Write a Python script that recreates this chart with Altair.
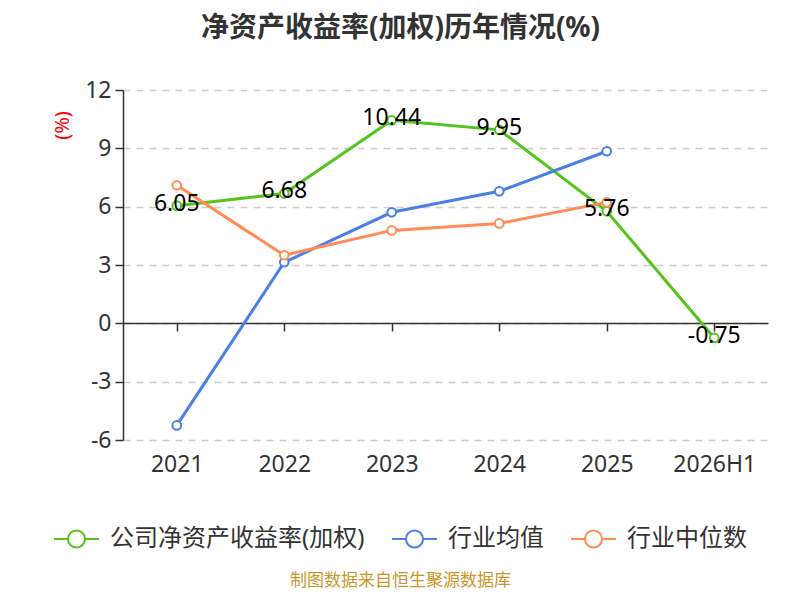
import altair as alt
import pandas as pd

years = ["2021", "2022", "2023", "2024", "2025", "2026H1"]
company = [6.05, 6.68, 10.44, 9.95, 5.76, -0.75]
industry_avg = [-5.25, 3.14, 5.71, 6.79, 8.85, None]
industry_median = [7.10, 3.50, 4.78, 5.14, 6.22, None]

s_company = "公司净资产收益率(加权)"
s_avg = "行业均值"
s_median = "行业中位数"
series_names = [s_company, s_avg, s_median]
series_colors = ["#52c41a", "#4a80e6", "#ff8b55"]

rows = []
for name, vals in zip(series_names, [company, industry_avg, industry_median]):
    for y, v in zip(years, vals):
        if v is not None:
            rows.append({"year": y, "series": name, "value": v, "label": f"{v:.2f}"})
df = pd.DataFrame(rows)
df_company = df[df["series"] == s_company]

FONT = "Noto Sans, Noto Sans CJK SC, sans-serif"

y_enc = alt.Y(
    "value:Q",
    scale=alt.Scale(domain=[-6, 12], nice=False, zero=False),
    axis=alt.Axis(
        values=[-6, -3, 0, 3, 6, 9, 12],
        labelExpr="datum.value < 0 ? '-' + abs(datum.value) : '' + datum.value",
        grid=True,
        gridDash=[7, 6],
        gridColor="#cccccc",
        gridWidth=1.5,
        domainColor="#333333",
        domainWidth=1.5,
        tickColor="#333333",
        tickSize=8,
        tickWidth=1.5,
        labelFontSize=23,
        labelColor="#333333",
        labelFont=FONT,
        labelPadding=4,
        title="(%)",
        titleColor="#ff0000",
        titleFontSize=20,
        titleFontWeight="normal",
        titleFont=FONT,
        titleX=-51,
        titleY=35,
        titleAngle=270,
    ),
)

color_scale = alt.Scale(domain=series_names, range=series_colors)

legend_path = ("M-1,0 L-0.38,0 M0.38,0 L1,0 "
               "M-0.38,0 A0.38,0.38 0 1,1 0.38,0 A0.38,0.38 0 1,1 -0.38,0")

lines = alt.Chart(df).mark_line(strokeWidth=3).encode(
    x=alt.X(
        "year:N",
        sort=years,
        scale=alt.Scale(domain=years, paddingInner=0, paddingOuter=0),
        axis=alt.Axis(
            orient="bottom",
            domain=False,
            ticks=False,
            grid=False,
            labelAngle=0,
            labelFontSize=23,
            labelColor="#333333",
            labelFont=FONT,
            labelPadding=13,
            title="制图数据来自恒生聚源数据库",
            titleColor="#c9962b",
            titleFontSize=17,
            titleFontWeight="normal",
            titleFont=FONT,
            titlePadding=96,
            titleX=277,
        ),
    ),
    y=y_enc,
    color=alt.Color(
        "series:N",
        scale=color_scale,
        sort=series_names,
        legend=alt.Legend(
            title=None,
            orient="none",
            direction="horizontal",
            legendX=-70,
            legendY=425,
            symbolType=legend_path,
            symbolSize=2025,
            symbolStrokeWidth=2,
            symbolFillColor="white",
            labelFontSize=24,
            labelColor="#333333",
            labelFont=FONT,
            labelOffset=10,
            labelLimit=400,
            columnPadding=23,
            padding=0,
        ),
    ),
)

points = alt.Chart(df).mark_point(
    shape="circle", filled=True, fill="white", size=75, strokeWidth=2, opacity=1
).encode(
    x=alt.X(
        "year:N",
        sort=years,
        axis=alt.Axis(
            orient="bottom",
            labels=False,
            ticks=True,
            domain=True,
            grid=False,
            domainColor="#333333",
            domainWidth=1.5,
            tickColor="#333333",
            tickWidth=1.5,
            tickSize=8,
            bandPosition=1,
            offset=-117,
            title=None,
        ),
    ),
    y=y_enc,
    stroke=alt.Stroke("series:N", scale=color_scale, legend=None),
)

labels = alt.Chart(df_company).mark_text(
    fontSize=23, color="#000000", font=FONT, baseline="middle", align="center", dy=-2
).encode(
    x=alt.X("year:N", sort=years, axis=None),
    y=y_enc,
    text=alt.Text("label:N"),
)

chart = (
    alt.layer(lines, points, labels)
    .resolve_axis(x="independent")
    .properties(
        width=645,
        height=350,
        padding={"left": 115, "top": 82, "right": 24, "bottom": 152},
        autosize=alt.AutoSizeParams(type="none"),
        title=alt.TitleParams(
            "净资产收益率(加权)历年情况(%)",
            fontSize=28,
            fontWeight="bold",
            color="#333333",
            font=FONT,
            anchor="middle",
            dx=-45,
            offset=36,
        ),
    )
    .configure_view(stroke=None)
)

chart.save("out.html", embed_options={"renderer": "svg", "actions": False})
